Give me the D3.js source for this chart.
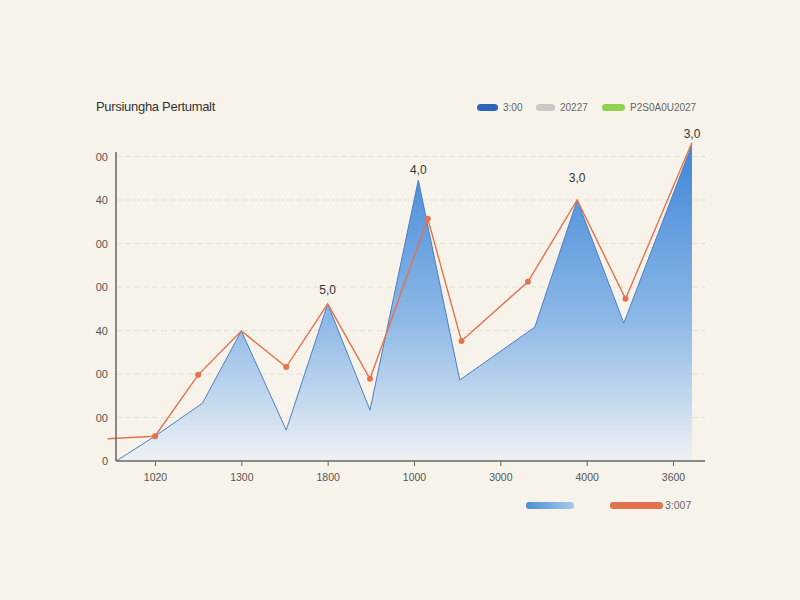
<!DOCTYPE html>
<html>
<head>
<meta charset="utf-8">
<script src="https://cdn.jsdelivr.net/npm/d3@7"></script>
<style>
  html, body { margin: 0; padding: 0; background: #f8f3ea; }
  svg { display: block; font-family: "Liberation Sans", Arial, sans-serif; }
</style>
</head>
<body>
<div id="chart"></div>
<script>
// chart values
const titleText = "Pursiungha Pertumalt";
const xTickLabels = ["1020", "1300", "1800", "1000", "3000", "4000", "3600"];
const yTickLabels = ["0", "00", "00", "40", "00", "00", "40", "00"];

// blue area (x in tick units, y in grid units)
const areaX = [-0.45, 0, 0.55, 1.0, 1.52, 2.0, 2.49, 3.05, 3.53, 4.4, 4.89, 5.43, 6.22];
const areaY = [0, 0.57, 1.33, 2.99, 0.71, 3.61, 1.17, 6.46, 1.86, 3.08, 6.0, 3.17, 7.27];

// orange line
const lineX = [-0.55, 0, 0.5, 1.0, 1.52, 2.0, 2.49, 3.16, 3.55, 4.32, 4.89, 5.45, 6.22];
const lineY = [0.51, 0.57, 1.98, 2.99, 2.16, 3.61, 1.89, 5.57, 2.76, 4.12, 6.0, 3.73, 7.32];
const lineDots = [false, true, true, false, true, false, true, true, true, true, false, true, false];

// value labels above peaks
const peakLabelText = ["5,0", "4,0", "3,0", "3,0"];
const peakLabelX = [2.0, 3.05, 4.89, 6.22];
const peakLabelY = [3.93, 6.69, 6.51, 7.52];

// legends
const topLegendNames = ["3:00", "20227", "P2S0A0U2027"];
const topLegendColors = ["#2d66b8", "#c9c9c7", "#8fd24e"];
const bottomLegendNames = ["", "3:007"];

const W = 800, H = 600;
const svg = d3.select("#chart").append("svg")
    .attr("width", W)
    .attr("height", H);

const x = d3.scaleLinear().domain([0, 6]).range([155, 673]);
const y = d3.scaleLinear().domain([0, 7]).range([461, 156.5]);
const xLeft = 116, xRight = 705;

// gradients
const defs = svg.append("defs");
const ag = defs.append("linearGradient")
    .attr("id", "areaGrad")
    .attr("x1", 0).attr("y1", 0).attr("x2", 0).attr("y2", 1);
ag.append("stop").attr("offset", "0%").attr("stop-color", "#3f86d8");
ag.append("stop").attr("offset", "55%").attr("stop-color", "#8cb8e6");
ag.append("stop").attr("offset", "100%").attr("stop-color", "#eef1f4");

const lg = defs.append("linearGradient")
    .attr("id", "legGrad")
    .attr("x1", 0).attr("y1", 0).attr("x2", 1).attr("y2", 0);
lg.append("stop").attr("offset", "0%").attr("stop-color", "#4a8ed6");
lg.append("stop").attr("offset", "100%").attr("stop-color", "#a9c9ec");

// title
svg.append("text")
    .attr("x", 96).attr("y", 111)
    .attr("font-size", 13)
    .attr("letter-spacing", -0.3)
    .attr("fill", "#333")
    .text(titleText);

// top legend
const topLeg = svg.append("g");
const topLegX = [477, 536, 602];
const topLegW = [21, 19, 23];
topLegendNames.forEach((name, i) => {
    topLeg.append("rect")
        .attr("x", topLegX[i]).attr("y", 104)
        .attr("width", topLegW[i]).attr("height", 7)
        .attr("rx", 3.5)
        .attr("fill", topLegendColors[i]);
    topLeg.append("text")
        .attr("x", topLegX[i] + topLegW[i] + 5).attr("y", 111)
        .attr("font-size", 10)
        .attr("fill", "#666")
        .text(name);
});

// gridlines
svg.append("g")
    .selectAll("line")
    .data(d3.range(1, 8))
    .enter().append("line")
    .attr("x1", xLeft).attr("x2", xRight)
    .attr("y1", d => y(d)).attr("y2", d => y(d))
    .attr("stroke", "#e6e0d6")
    .attr("stroke-width", 1)
    .attr("stroke-dasharray", "6,3");

// area
const pts = areaX.map((v, i) => [v, areaY[i]]);
const area = d3.area()
    .x(d => x(d[0]))
    .y0(y(0))
    .y1(d => y(d[1]));
svg.append("path")
    .datum(pts)
    .attr("d", area)
    .attr("fill", "url(#areaGrad)");
svg.append("path")
    .datum(pts)
    .attr("d", d3.line().x(d => x(d[0])).y(d => y(d[1])))
    .attr("fill", "none")
    .attr("stroke", "#4d7fc2")
    .attr("stroke-width", 1);

// orange line
const lpts = lineX.map((v, i) => [v, lineY[i], lineDots[i]]);
svg.append("path")
    .datum(lpts)
    .attr("d", d3.line().x(d => x(d[0])).y(d => y(d[1])))
    .attr("fill", "none")
    .attr("stroke", "#e2734f")
    .attr("stroke-width", 1.4);
svg.append("g")
    .selectAll("circle")
    .data(lpts.filter(d => d[2]))
    .enter().append("circle")
    .attr("cx", d => x(d[0]))
    .attr("cy", d => y(d[1]))
    .attr("r", 3)
    .attr("fill", "#e2734f");

// peak labels
svg.append("g")
    .selectAll("text")
    .data(peakLabelText)
    .enter().append("text")
    .attr("x", (d, i) => x(peakLabelX[i]))
    .attr("y", (d, i) => y(peakLabelY[i]) + 4)
    .attr("text-anchor", "middle")
    .attr("font-size", 12)
    .attr("fill", "#333")
    .text(d => d);

// y axis
svg.append("line")
    .attr("x1", xLeft).attr("x2", xLeft)
    .attr("y1", 152).attr("y2", y(0))
    .attr("stroke", "#666")
    .attr("stroke-width", 1.5);
svg.append("g")
    .selectAll("text")
    .data(yTickLabels)
    .enter().append("text")
    .attr("x", 108)
    .attr("y", (d, i) => y(i) + 4)
    .attr("text-anchor", "end")
    .attr("font-size", 11)
    .attr("fill", "#555")
    .text(d => d);

// x axis
const xAxis = d3.axisBottom(x)
    .tickValues(d3.range(xTickLabels.length))
    .tickFormat(i => xTickLabels[i])
    .tickSize(5)
    .tickSizeOuter(0);
const gx = svg.append("g")
    .attr("transform", `translate(0,${y(0)})`)
    .call(xAxis);
gx.select(".domain").remove();
gx.selectAll(".tick line").attr("stroke", "#666");
gx.selectAll(".tick text")
    .attr("dy", 12)
    .attr("font-size", 10.5)
    .attr("font-family", "Liberation Sans, Arial, sans-serif")
    .attr("fill", "#555");
svg.append("line")
    .attr("x1", xLeft).attr("x2", xRight)
    .attr("y1", y(0)).attr("y2", y(0))
    .attr("stroke", "#666")
    .attr("stroke-width", 1.5);

// bottom legend
svg.append("rect")
    .attr("x", 526).attr("y", 502)
    .attr("width", 48).attr("height", 7)
    .attr("rx", 3)
    .attr("fill", "url(#legGrad)");
svg.append("rect")
    .attr("x", 610).attr("y", 502)
    .attr("width", 53).attr("height", 7)
    .attr("rx", 3)
    .attr("fill", "#e2734f");
svg.append("text")
    .attr("x", 665).attr("y", 509)
    .attr("font-size", 10.5)
    .attr("fill", "#666")
    .text(bottomLegendNames[1]);
</script>
</body>
</html>
